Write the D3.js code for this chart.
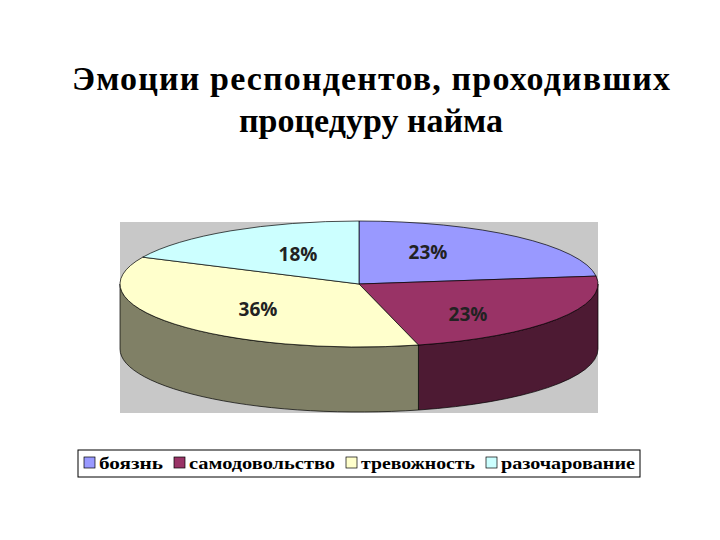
<!DOCTYPE html>
<html><head><meta charset="utf-8">
<script src="https://cdn.jsdelivr.net/npm/d3@7"></script>
<style>body{margin:0;background:#fff}</style>
</head><body>
<div id="chart"></div>
<script>
const categories = ["боязнь", "самодовольство", "тревожность", "разочарование"];
const values = [23, 23, 36, 18];
const labels = ["23%", "23%", "36%", "18%"];
const topColors = ["#9999ff", "#993366", "#ffffcc", "#ccffff"];
const sideColors = ["#4d4d80", "#4d1a33", "#808066", "#668080"];
const labelPos = [[428, 254], [468, 316], [258, 311], [298, 256]];

const width = 720, height = 540;
const svg = d3.select("#chart").append("svg")
    .attr("width", width).attr("height", height);

// Title
const title = svg.append("text")
    .attr("text-anchor", "middle")
    .attr("font-family", "Liberation Serif")
    .attr("font-weight", "bold")
    .attr("font-size", 34)
    .attr("fill", "#000");
title.append("tspan").attr("x", 371).attr("y", 90).attr("textLength", 598).text("Эмоции респондентов, проходивших");
title.append("tspan").attr("x", 371).attr("y", 132).text("процедуру найма");

// Plot area
svg.append("rect")
    .attr("x", 120).attr("y", 222).attr("width", 478).attr("height", 191)
    .attr("fill", "#c8c8c8");

const cx = 359, cy = 284, rx = 239, ry = 63, depth = 65;
const pt = (a, dy = 0) => [cx + rx * Math.sin(a), cy - ry * Math.cos(a) + dy];

const arcs = d3.pie().sort(null).value(d => d)(values);

// Side walls (front half only)
arcs.forEach((d, i) => {
    const a0 = Math.max(d.startAngle, Math.PI / 2);
    const a1 = Math.min(d.endAngle, 3 * Math.PI / 2);
    if (a1 <= a0) return;
    const p0 = pt(a0), p1 = pt(a1), q1 = pt(a1, depth), q0 = pt(a0, depth);
    const path = `M${p0}A${rx},${ry} 0 0 1 ${p1}L${q1}A${rx},${ry} 0 0 0 ${q0}Z`;
    svg.append("path").attr("d", path)
        .attr("fill", sideColors[i]).attr("stroke", "#000").attr("stroke-width", 0.7);
});

// Top faces
arcs.forEach((d, i) => {
    const p0 = pt(d.startAngle), p1 = pt(d.endAngle);
    const large = d.endAngle - d.startAngle > Math.PI ? 1 : 0;
    svg.append("path")
        .attr("d", `M${cx},${cy}L${p0}A${rx},${ry} 0 ${large} 1 ${p1}Z`)
        .attr("fill", topColors[i]).attr("stroke", "#000").attr("stroke-width", 0.7);
});

// Labels
labels.forEach((t, i) => {
    svg.append("text")
        .attr("x", labelPos[i][0]).attr("y", labelPos[i][1])
        .attr("text-anchor", "middle").attr("dominant-baseline", "middle")
        .attr("font-family", "Open Sans").attr("font-weight", "bold").attr("font-size", 19)
        .attr("fill", "#222").text(t);
});

// Legend
svg.append("rect")
    .attr("x", 78).attr("y", 450).attr("width", 562).attr("height", 27)
    .attr("fill", "#fff").attr("stroke", "#000");
const legendX = [84, 174, 346, 486];
const legendW = [64, 146, 114, 134];
categories.forEach((c, i) => {
    const g = svg.append("g").attr("transform", `translate(${legendX[i]},457)`);
    g.append("rect").attr("width", 11).attr("height", 11)
        .attr("fill", topColors[i]).attr("stroke", "#000").attr("stroke-width", 0.7);
    g.append("text").attr("x", 15).attr("y", 12)
        .attr("font-family", "Liberation Serif").attr("font-weight", "bold")
        .attr("font-size", 17).attr("textLength", legendW[i])
        .attr("lengthAdjust", "spacingAndGlyphs").text(c);
});
</script>
</body></html>
